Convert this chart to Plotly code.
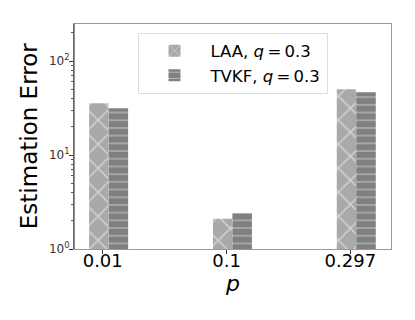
import plotly.graph_objects as go

# values
p_labels = ['0.01', '0.1', '0.297']
laa_err = [35.5, 2.1, 50.0]
tvkf_err = [31.5, 2.4, 46.5]

xpos = list(range(len(p_labels)))
font = 'DejaVu Sans'
ts = '\u2009'  # thin space, like mathtext spacing around "="

fig = go.Figure()
fig.add_trace(go.Bar(
    x=xpos, y=laa_err, name=f'LAA, <i>q</i>{ts}={ts}0.3',
    width=0.156, offset=-0.11,
    marker=dict(color='#a9a9a9', line=dict(width=0),
                pattern=dict(shape='x', fgcolor='white', size=17, solidity=0.16, fillmode='overlay')),
))
fig.add_trace(go.Bar(
    x=xpos, y=tvkf_err, name=f'TVKF, <i>q</i>{ts}={ts}0.3',
    width=0.158, offset=0.047,
    marker=dict(color='#808080', line=dict(width=0),
                pattern=dict(shape='-', fgcolor='white', size=7.7, solidity=0.15, fillmode='overlay')),
))

# the page body has an 8px margin, so margins are shifted to compensate
fig.update_layout(
    width=415, height=320,
    margin=dict(l=66, r=32, t=16, b=79),
    barmode='overlay',
    plot_bgcolor='white', paper_bgcolor='white',
    font=dict(family=font, color='black'),
    showlegend=True,
    legend=dict(
        x=0.5, y=0.962, xanchor='center', yanchor='top',
        bgcolor='white', bordercolor='#dddddd', borderwidth=1,
        font=dict(size=16.5, family=font),
        itemwidth=62,
    ),
)

fig.update_xaxes(
    range=[-0.232, 2.328],
    tickvals=xpos, ticktext=p_labels,
    tickfont=dict(size=18),
    ticks='outside', ticklen=4, tickcolor='#333333',
    ticklabelstandoff=-9,
    showline=True, linecolor='#999999', linewidth=1.2, mirror=True,
    showgrid=False, zeroline=False, automargin=False,
)
fig.update_yaxes(
    type='log', range=[0, 2.394],
    tickvals=[1, 10, 100],
    ticktext=['10<sup>0</sup>', '10<sup>1</sup>', '10<sup>2</sup>'],
    tickfont=dict(size=12, color='#333333'),
    ticks='outside', ticklen=4, tickcolor='#333333',
    ticklabelstandoff=-3,
    minor=dict(ticks='outside', ticklen=2, tickcolor='#555555', dtick='D1', showgrid=False),
    showline=True, linecolor='#999999', linewidth=1.2, mirror=True,
    showgrid=False, zeroline=False, automargin=False,
)

# axis titles placed as annotations for exact positioning
fig.add_annotation(text='Estimation Error', textangle=-90, showarrow=False,
                   xref='paper', yref='paper', x=-0.143, y=0.5,
                   xanchor='center', yanchor='middle', font=dict(size=23))
fig.add_annotation(text='<i>p</i>', showarrow=False,
                   xref='paper', yref='paper', x=0.5, y=-0.155,
                   xanchor='center', yanchor='middle', font=dict(size=22))

# left spine is darker in the reference
fig.add_shape(type='line', xref='paper', yref='paper', x0=0, x1=0, y0=0, y1=1,
              line=dict(color='#444444', width=1.2))

fig.write_html('out.html')
